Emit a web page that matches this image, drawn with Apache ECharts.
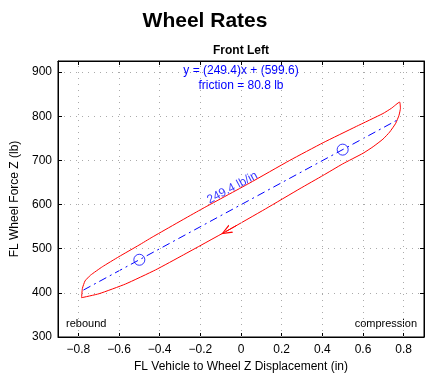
<!DOCTYPE html>
<html>
<head>
<meta charset="utf-8">
<script src="https://cdn.jsdelivr.net/npm/echarts@6/dist/echarts.min.js"></script>
<style>
  html, body { margin: 0; padding: 0; background: #fff; }
  #chart { width: 434px; height: 375px; }
</style>
</head>
<body>
<div id="chart"></div>
<script>
// tick values
var xTicks = [-0.8, -0.6, -0.4, -0.2, 0, 0.2, 0.4, 0.6, 0.8];
var yTicks = [300, 400, 500, 600, 700, 800, 900];

// hysteresis loop (displacement, force) - compression branch then rebound branch
var loopX = [-0.784, -0.78, -0.767, -0.74, -0.682, -0.6, -0.502, -0.437, -0.2, 0.04, 0.24, 0.404, 0.568, 0.698, 0.74, 0.78,
             0.784, 0.777, 0.761, 0.731, 0.698, 0.65, 0.6, 0.5, 0.404, 0.29, 0.12,
             -0.07, -0.283, -0.42, -0.568, -0.698, -0.784];
var loopY = [389, 410, 427, 440, 459, 482, 508, 526, 588, 648, 700, 740, 777, 806, 818, 832,
             818, 802, 784, 764, 748, 731, 716, 692, 666, 636, 590,
             540, 486, 452, 420, 398, 389];

// fitted line ends and the two marked points
var fitX = [-0.775, 0.775];
var fitY = [406.3, 792.9];
var ptX = [-0.5, 0.5];
var ptY = [474.9, 724.3];

// arrow on rebound branch
var arrowFrom = [-0.02, 553];
var arrowTo = [-0.074, 539];

var rateLabel = [-0.042, 638];

var loopData = [];
for (var i = 0; i < loopX.length; i++) {
  loopData.push([loopX[i], loopY[i]]);
}
var fitData = [];
for (var i = 0; i < fitX.length; i++) {
  fitData.push([fitX[i], fitY[i]]);
}
var ptData = [];
for (var i = 0; i < ptX.length; i++) {
  ptData.push([ptX[i], ptY[i]]);
}

var fontFam = '"Liberation Sans", Arial, sans-serif';
var gridLine = { show: true, lineStyle: { color: '#aaa', type: [1, 5], width: 1 } };

function fmtX(v) {
  var s = (Math.round(v * 10) / 10).toString();
  return s.replace('-', '\u2212');
}

var option = {
  animation: false,
  backgroundColor: '#fff',
  textStyle: { fontFamily: fontFam },
  title: [{
    text: 'Wheel Rates',
    left: 200,
    top: 6,
    textAlign: 'center',
    textStyle: { fontSize: 21, fontWeight: 'bold', color: '#000', fontFamily: fontFam }
  }, {
    text: 'Front Left',
    left: 236,
    top: 40,
    textAlign: 'center',
    textStyle: { fontSize: 12, fontWeight: 'bold', color: '#000', fontFamily: fontFam }
  }],
  grid: {
    left: 58,
    right: 10,
    top: 61,
    bottom: 38,
    outerBoundsMode: 'none',
    show: true,
    borderColor: '#000',
    borderWidth: 1
  },
  xAxis: [{
    type: 'value',
    min: -0.9,
    max: 0.9,
    name: 'FL Vehicle to Wheel Z Displacement (in)',
    nameLocation: 'middle',
    nameGap: 24,
    nameTextStyle: { fontSize: 12, color: '#000', fontFamily: fontFam },
    axisLine: { show: true, onZero: false, lineStyle: { color: '#000' } },
    axisTick: { show: true, inside: true, length: 4, customValues: xTicks, lineStyle: { color: '#000' } },
    axisLabel: { show: true, customValues: xTicks, color: '#000', fontSize: 12, margin: 7, formatter: fmtX },
    splitLine: { show: false }
  }, {
    type: 'value',
    position: 'top',
    min: -0.9,
    max: 0.9,
    axisLine: { show: true, onZero: false, lineStyle: { color: '#000' } },
    axisTick: { show: true, inside: true, length: 4, customValues: xTicks, lineStyle: { color: '#000' } },
    axisLabel: { show: false },
    splitLine: { show: false }
  }],
  yAxis: [{
    type: 'value',
    min: 300,
    max: 925,
    interval: 100,
    name: 'FL Wheel Force Z (lb)',
    nameLocation: 'middle',
    nameGap: 31,
    nameTextStyle: { fontSize: 12, color: '#000', fontFamily: fontFam },
    axisLine: { show: true, onZero: false, lineStyle: { color: '#000' } },
    axisTick: { show: true, inside: true, length: 4, lineStyle: { color: '#000' } },
    axisLabel: { show: true, color: '#000', fontSize: 12, margin: 6, showMaxLabel: false },
    splitLine: gridLine
  }, {
    type: 'value',
    position: 'right',
    min: 300,
    max: 925,
    interval: 100,
    axisLine: { show: true, onZero: false, lineStyle: { color: '#000' } },
    axisTick: { show: true, inside: true, length: 4, lineStyle: { color: '#000' } },
    axisLabel: { show: false },
    splitLine: { show: false }
  }],
  graphic: [{
    type: 'text',
    x: 241,
    y: 65,
    style: { text: 'y = (249.4)x + (599.6)', fill: '#0000ff', font: '12px ' + fontFam, textAlign: 'center' }
  }, {
    type: 'text',
    x: 241,
    y: 80,
    style: { text: 'friction = 80.8 lb', fill: '#0000ff', font: '12px ' + fontFam, textAlign: 'center' }
  }, {
    type: 'text',
    x: 66,
    y: 318,
    style: { text: 'rebound', fill: '#000', font: '11px ' + fontFam }
  }, {
    type: 'text',
    x: 417,
    y: 318,
    style: { text: 'compression', fill: '#000', font: '11px ' + fontFam, textAlign: 'right' }
  }],
  series: [{
    // vertical dotted grid lines at the x ticks
    type: 'line',
    data: [],
    silent: true,
    markLine: {
      silent: true,
      symbol: ['none', 'none'],
      label: { show: false },
      lineStyle: { color: '#aaa', type: [1, 5], width: 1 },
      data: xTicks.map(function (v) { return { xAxis: v }; })
    }
  }, {
    name: 'loop',
    type: 'line',
    data: loopData,
    showSymbol: false,
    smooth: 0.15,
    lineStyle: { color: '#ff0000', width: 1 },
    markLine: {
      silent: true,
      symbol: ['none', 'path://M0,10 L5,0 L10,10 L8.6,10 L5,2.6 L1.4,10 Z'],
      symbolSize: [9, 11],
      label: { show: false },
      lineStyle: { color: '#ff0000', width: 1, type: 'solid' },
      data: [[{ coord: arrowFrom }, { coord: arrowTo }]]
    }
  }, {
    name: 'fit',
    type: 'line',
    data: fitData,
    showSymbol: false,
    lineStyle: { color: '#0000ff', width: 1, type: [8, 4, 2, 4] }
  }, {
    name: 'points',
    type: 'scatter',
    data: ptData,
    symbol: 'circle',
    symbolSize: 11,
    itemStyle: { color: 'rgba(0,0,0,0)', borderColor: '#0000ff', borderWidth: 1 }
  }, {
    name: 'rate',
    type: 'scatter',
    data: [rateLabel],
    symbolSize: 0,
    label: {
      show: true,
      position: 'inside',
      formatter: '249.4 lb/in',
      rotate: 28,
      color: '#0000ff',
      fontSize: 12,
      fontFamily: fontFam
    }
  }]
};

var chartDiv = document.getElementById('chart');
var chart = echarts.init(chartDiv);
chart.setOption(option);
</script>
</body>
</html>
